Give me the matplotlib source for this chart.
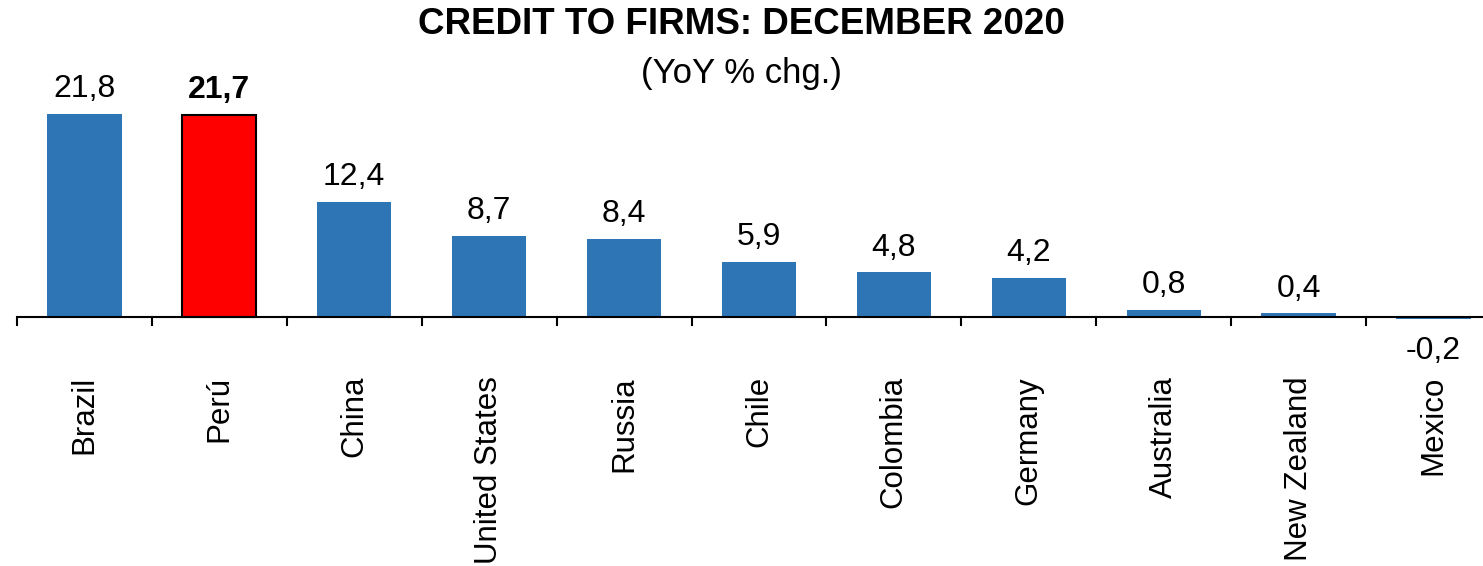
import matplotlib.pyplot as plt
from matplotlib import font_manager
import numpy as np

countries = ['Brazil', 'Perú', 'China', 'United States', 'Russia', 'Chile',
             'Colombia', 'Germany', 'Australia', 'New Zealand', 'Mexico']
values = [21.8, 21.7, 12.4, 8.7, 8.4, 5.9, 4.8, 4.2, 0.8, 0.4, -0.2]
highlight = 'Perú'

names = {f.name for f in font_manager.fontManager.ttflist}
narrow = 'Liberation Sans Narrow' if 'Liberation Sans Narrow' in names else 'Liberation Sans'
plt.rcParams['font.family'] = ['Liberation Sans', 'DejaVu Sans']

fig = plt.figure(figsize=(14.83, 5.66), dpi=100)
# axis spans slightly past the right edge, like the original
ax = fig.add_axes([17 / 1483, (566 - 335.6) / 566, 11 * 134.9 / 1483, 251.4 / 566])

x = np.arange(len(countries))
colors = ['#FF0000' if c == highlight else '#2E75B6' for c in countries]
edges = ['black' if c == highlight else 'none' for c in countries]
ax.bar(x, values, width=0.55, color=colors, edgecolor=edges, linewidth=1.5)

for xi, v, c in zip(x, values, countries):
    txt = f'{v:.1f}'.replace('.', ',')
    bold = 'bold' if c == highlight else 'normal'
    if v >= 0:
        ax.annotate(txt, (xi, v), xytext=(0, 7), textcoords='offset points',
                    ha='center', va='bottom', fontsize=23, fontweight=bold)
    else:
        ax.annotate(txt, (xi, v), xytext=(0, -23), textcoords='offset points',
                    ha='center', va='center', fontsize=23, fontweight=bold)

ax.set_xlim(-0.5, len(countries) - 0.5)
ax.set_ylim(-2, 25)
ax.axhline(0, color='black', linewidth=1.5, zorder=3)
for s in ax.spines.values():
    s.set_visible(False)
ax.set_yticks([])
ax.set_xticks(x)
ax.set_xticklabels(countries, rotation=90, fontsize=22.5, va='top')
ax.tick_params(axis='x', which='major', length=0, pad=29)
for b in np.arange(-0.5, len(countries), 1):
    ax.plot([b, b], [0, -0.85], color='black', linewidth=1.5, clip_on=False)

fig.text(0.5, 0.957, 'CREDIT TO FIRMS: DECEMBER 2020', ha='center', va='center',
         fontsize=26.5, fontweight='bold', family=[narrow, 'DejaVu Sans'])
fig.text(0.5, 0.870, '(YoY % chg.)', ha='center', va='center',
         fontsize=25, family=[narrow, 'DejaVu Sans'])

fig.savefig('out.png', dpi=100)
